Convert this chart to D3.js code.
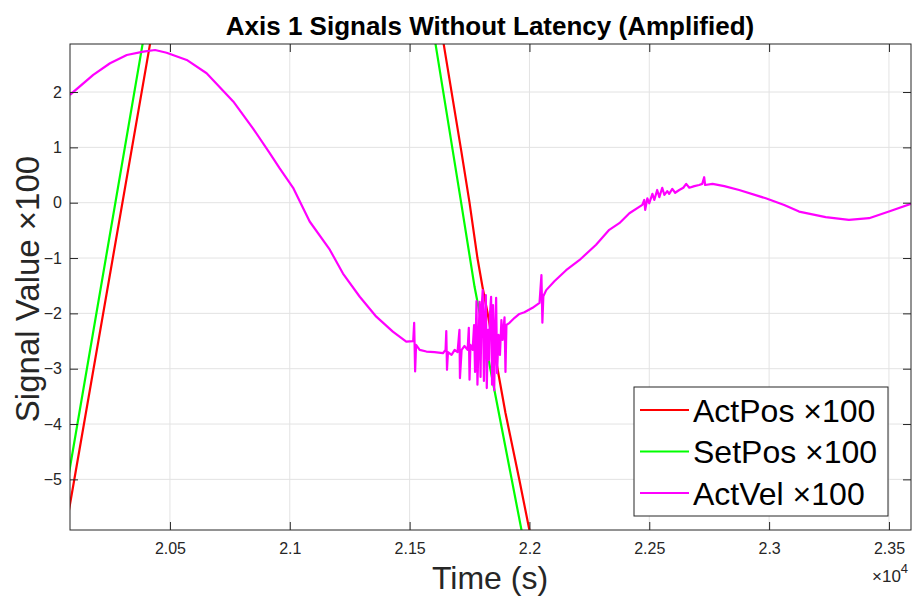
<!DOCTYPE html>
<html>
<head>
<meta charset="utf-8">
<script src="https://cdn.jsdelivr.net/npm/d3@7"></script>
<style>
  body { margin: 0; background: #fff; }
  text { font-family: "Liberation Sans", Arial, Helvetica, sans-serif; }
</style>
</head>
<body>
<svg width="914" height="597"></svg>
<script>
// time in seconds, values already multiplied by 100
var actPosTime = [20060, 20083, 20417, 21030, 21642, 21715, 21750, 21783, 21804, 21825, 21875, 21900, 21958, 22000, 22020];
var actPos     = [-6.02, -5.45, 2.87, 18, 2.87, 0.95, 0.0, -1.0, -1.52, -1.99, -3.20, -3.80, -5.01, -5.92, -6.4];

var setPosTime = [20060, 20083, 20386, 21000, 21608, 21715, 21771, 21854, 21967, 21990];
var setPos     = [-5.36, -4.78, 2.87, 18, 2.87, 0.0, -1.52, -3.39, -5.92, -6.4];

var actVelTime = [20083, 20180, 20250, 20320, 20389, 20438, 20486, 20570, 20653, 20764, 20847, 20917, 20958, 21014, 21083,
  21167, 21222, 21292, 21361, 21430, 21486, 21515, 21519, 21523, 21527, 21542, 21570, 21604, 21639,
  21650, 21653, 21656, 21660, 21675, 21688, 21700, 21708, 21710, 21717, 21729, 21742, 21747, 21750, 21754,
  21763, 21769, 21773, 21779, 21783, 21788, 21792, 21796, 21800, 21805, 21810, 21814, 21818, 21822,
  21827, 21831, 21835, 21840, 21844, 21848, 21853, 21857, 21861, 21865, 21871, 21877, 21883, 21888,
  21896, 21900, 21904, 21917, 21938, 21958, 21979, 22013, 22042, 22050, 22054, 22058, 22070, 22104,
  22153, 22208, 22278, 22333, 22375, 22417, 22471, 22479, 22483, 22492, 22500, 22513, 22521, 22533,
  22542, 22554, 22563, 22575, 22583, 22596, 22608, 22625, 22642, 22654, 22667, 22688, 22708, 22721,
  22729, 22733, 22764, 22813, 22875, 22986, 23063, 23125, 23236, 23333, 23417, 23500, 23592];
var actVel = [1.95, 2.31, 2.52, 2.67, 2.73, 2.76, 2.71, 2.58, 2.34, 1.83, 1.34, 0.89, 0.62, 0.27, -0.34,
  -0.85, -1.28, -1.70, -2.06, -2.33, -2.51, -2.50, -2.17, -3.05, -2.57, -2.66, -2.69, -2.70, -2.72,
  -2.66, -2.32, -3.02, -2.70, -2.75, -2.66, -2.70, -2.30, -3.17, -2.66, -2.59, -2.66, -2.26, -3.20, -2.57,
  -2.66, -2.21, -3.06, -1.78, -3.29, -2.48, -1.79, -3.15, -1.94, -1.58, -3.22, -2.12, -1.67, -3.35,
  -2.30, -2.84, -2.03, -1.70, -3.29, -1.85, -3.39, -2.30, -1.72, -3.08, -2.39, -2.75, -2.12, -2.48,
  -2.07, -3.06, -2.21, -2.17, -2.08, -2.01, -1.98, -1.90, -1.81, -1.31, -2.17, -1.69, -1.58, -1.42,
  -1.22, -1.04, -0.76, -0.49, -0.37, -0.19, -0.04, 0.05, -0.13, 0.08, -0.01, 0.16, 0.05, 0.23,
  0.10, 0.27, 0.14, 0.21, 0.16, 0.25, 0.18, 0.23, 0.27, 0.34, 0.27, 0.30, 0.32, 0.34,
  0.46, 0.32, 0.34, 0.30, 0.23, 0.08, -0.04, -0.16, -0.26, -0.31, -0.28, -0.16, -0.02];

var xTicks = [20500, 21000, 21500, 22000, 22500, 23000, 23500];
var yTicks = [-5, -4, -3, -2, -1, 0, 1, 2];
var legendNames = ["ActPos \u00d7100", "SetPos \u00d7100", "ActVel \u00d7100"];
var colors = ["#ff0000", "#00ff00", "#ff00ff"];

var svg = d3.select("svg"),
    pl = 70, pr = 911, pt = 44, pb = 530;

var x = d3.scaleLinear().domain([20083, 23592]).range([pl, pr]);
var y = d3.scaleLinear().domain([-5.915, 2.868]).range([pb, pt]);

// grid
svg.append("g").selectAll("line").data(xTicks).enter().append("line")
    .attr("x1", function(d) { return x(d); }).attr("x2", function(d) { return x(d); })
    .attr("y1", pt).attr("y2", pb)
    .attr("stroke", "#e3e3e3");
svg.append("g").selectAll("line").data(yTicks).enter().append("line")
    .attr("y1", function(d) { return y(d); }).attr("y2", function(d) { return y(d); })
    .attr("x1", pl).attr("x2", pr)
    .attr("stroke", "#e3e3e3");

// lines
svg.append("clipPath").attr("id", "clip").append("rect")
    .attr("x", pl).attr("y", pt).attr("width", pr - pl).attr("height", pb - pt);

var line = d3.line()
    .x(function(d) { return x(d[0]); })
    .y(function(d) { return y(d[1]); });

var series = [
  d3.zip(actPosTime, actPos),
  d3.zip(setPosTime, setPos),
  d3.zip(actVelTime, actVel)
];

svg.append("g").attr("clip-path", "url(#clip)")
  .selectAll("path").data(series).enter().append("path")
    .attr("d", line)
    .attr("fill", "none")
    .attr("stroke", function(d, i) { return colors[i]; })
    .attr("stroke-width", 2.2)
    .attr("stroke-linejoin", "round");

// axes, ticks pointing inward
var axisColor = "#262626";
function style(g) {
  g.select(".domain").remove();
  g.selectAll("line").attr("stroke", axisColor);
  g.selectAll("text").attr("fill", axisColor).style("font-size", "16px")
    .style("font-family", "'Liberation Sans', Arial, sans-serif");
}

svg.append("g").attr("transform", "translate(0," + pb + ")")
    .call(d3.axisBottom(x).tickValues(xTicks).tickSize(-8).tickPadding(13)
      .tickFormat(function(d) { return d3.format("")(d / 1e4); }))
    .call(style);
svg.append("g").attr("transform", "translate(0," + pt + ")")
    .call(d3.axisTop(x).tickValues(xTicks).tickSize(-8).tickFormat(""))
    .call(style);
svg.append("g").attr("transform", "translate(" + pl + ",0)")
    .call(d3.axisLeft(y).tickValues(yTicks).tickSize(-8).tickPadding(8))
    .call(style);
svg.append("g").attr("transform", "translate(" + pr + ",0)")
    .call(d3.axisRight(y).tickValues(yTicks).tickSize(-8).tickFormat(""))
    .call(style);

svg.append("rect")
    .attr("x", pl).attr("y", pt).attr("width", pr - pl).attr("height", pb - pt)
    .attr("fill", "none").attr("stroke", axisColor);

// exponent
var ex = svg.append("text").attr("x", 872).attr("y", 582)
    .attr("fill", axisColor).style("font-size", "17px").text("\u00d710");
ex.append("tspan").attr("dy", -9).style("font-size", "13px").text("4");

// title and labels
svg.append("text").attr("x", 490).attr("y", 35)
    .attr("text-anchor", "middle").style("font-size", "26px").style("font-weight", "bold")
    .text("Axis 1 Signals Without Latency (Amplified)");

svg.append("text").attr("x", 490).attr("y", 589)
    .attr("text-anchor", "middle").attr("fill", axisColor).style("font-size", "32px")
    .text("Time (s)");

svg.append("text")
    .attr("transform", "translate(39,289) rotate(-90)")
    .attr("text-anchor", "middle").attr("fill", axisColor).style("font-size", "33px")
    .text("Signal Value \u00d7100");

// legend
var lg = svg.append("g");
lg.append("rect").attr("x", 634).attr("y", 387).attr("width", 254).attr("height", 129)
    .attr("fill", "#fff").attr("stroke", axisColor);
var rows = lg.selectAll("g.row").data(legendNames).enter().append("g")
    .attr("transform", function(d, i) { return "translate(0," + (410 + i * 41.5) + ")"; });
rows.append("line").attr("x1", 640).attr("x2", 689)
    .attr("stroke", function(d, i) { return colors[i]; }).attr("stroke-width", 2);
rows.append("text").attr("x", 693).attr("y", 11.5)
    .style("font-size", "32px").attr("fill", "#000")
    .text(function(d) { return d; });
</script>
</body>
</html>
